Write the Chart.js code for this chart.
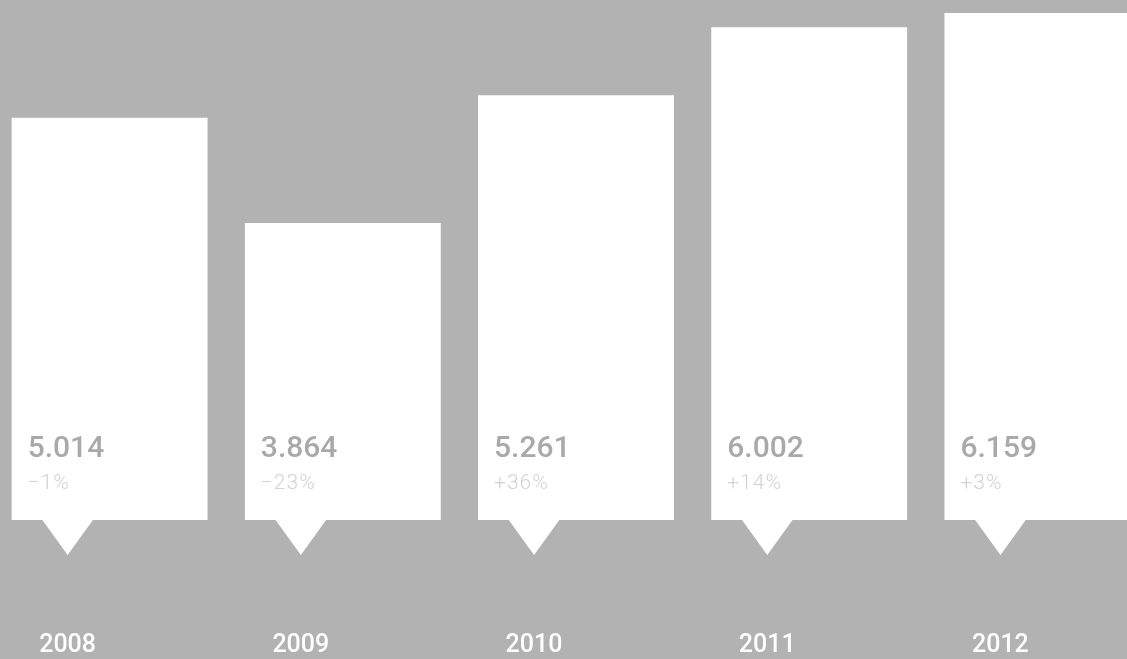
<!DOCTYPE html>
<html lang="en">
<head>
<meta charset="UTF-8">
<title>Chart</title>
<script src="https://cdn.jsdelivr.net/npm/chart.js"></script>
<style>
    html, body { margin: 0; padding: 0; background: #b2b2b2; overflow: hidden; width: 1127px; height: 659px; }
    #myChart { position: absolute; left: -7px; top: 0; }
</style>
</head>
<body>
<canvas id="myChart" width="1166" height="659"></canvas>
<script>
    // data
    const years = ['2008', '2009', '2010', '2011', '2012'];
    const values = [5014, 3864, 5261, 6002, 6159];
    const changes = ['\u22121%', '\u221223%', '+36%', '+14%', '+3%'];

    const yMin = 618;
    const yMax = 6301;

    function formatValue(v) {
        return Math.floor(v / 1000) + '.' + String(v % 1000).padStart(3, '0');
    }

    // callout pointer + labels inside each bar
    const calloutPlugin = {
        id: 'callout',
        afterDatasetsDraw(chart) {
            const ctx = chart.ctx;
            const meta = chart.getDatasetMeta(0);
            const base = chart.chartArea.bottom;
            meta.data.forEach((bar, i) => {
                const left = bar.x - bar.width / 2;
                const cx = left + 56;
                ctx.save();
                ctx.fillStyle = '#ffffff';
                ctx.beginPath();
                ctx.moveTo(cx - 26, base - 1);
                ctx.lineTo(cx + 26, base - 1);
                ctx.lineTo(cx, base + 35);
                ctx.closePath();
                ctx.fill();

                ctx.textAlign = 'left';
                ctx.textBaseline = 'alphabetic';
                ctx.fillStyle = '#a9a9a9';
                ctx.font = '500 30px Roboto, "Liberation Sans", sans-serif';
                ctx.fillText(formatValue(values[i]), left + 16, base - 63);

                ctx.fillStyle = '#d2d2d2';
                ctx.font = '300 21px Roboto, "Liberation Sans", sans-serif';
                if ('letterSpacing' in ctx) ctx.letterSpacing = '1px';
                ctx.fillText(changes[i], left + 16, base - 31);
                ctx.restore();
            });
        }
    };

    const ctx = document.getElementById('myChart').getContext('2d');
    new Chart(ctx, {
        type: 'bar',
        data: {
            labels: years,
            datasets: [{
                data: values,
                backgroundColor: '#ffffff',
                borderWidth: 0,
                categoryPercentage: 1.0,
                barPercentage: 0.84
            }]
        },
        options: {
            responsive: false,
            animation: false,
            layout: { padding: 0 },
            plugins: {
                legend: { display: false },
                tooltip: { enabled: false }
            },
            scales: {
                x: {
                    grid: { display: false, drawTicks: false },
                    border: { display: false },
                    ticks: {
                        color: '#ffffff',
                        font: { family: 'Roboto, "Liberation Sans", sans-serif', size: 25, weight: '500' },
                        padding: 111,
                        labelOffset: -42
                    },
                    afterFit(scale) {
                        scale.height = 139;
                        scale.paddingLeft = 0;
                        scale.paddingRight = 0;
                    }
                },
                y: {
                    display: false,
                    min: yMin,
                    max: yMax
                }
            }
        },
        plugins: [calloutPlugin]
    });
</script>
</body>
</html>
